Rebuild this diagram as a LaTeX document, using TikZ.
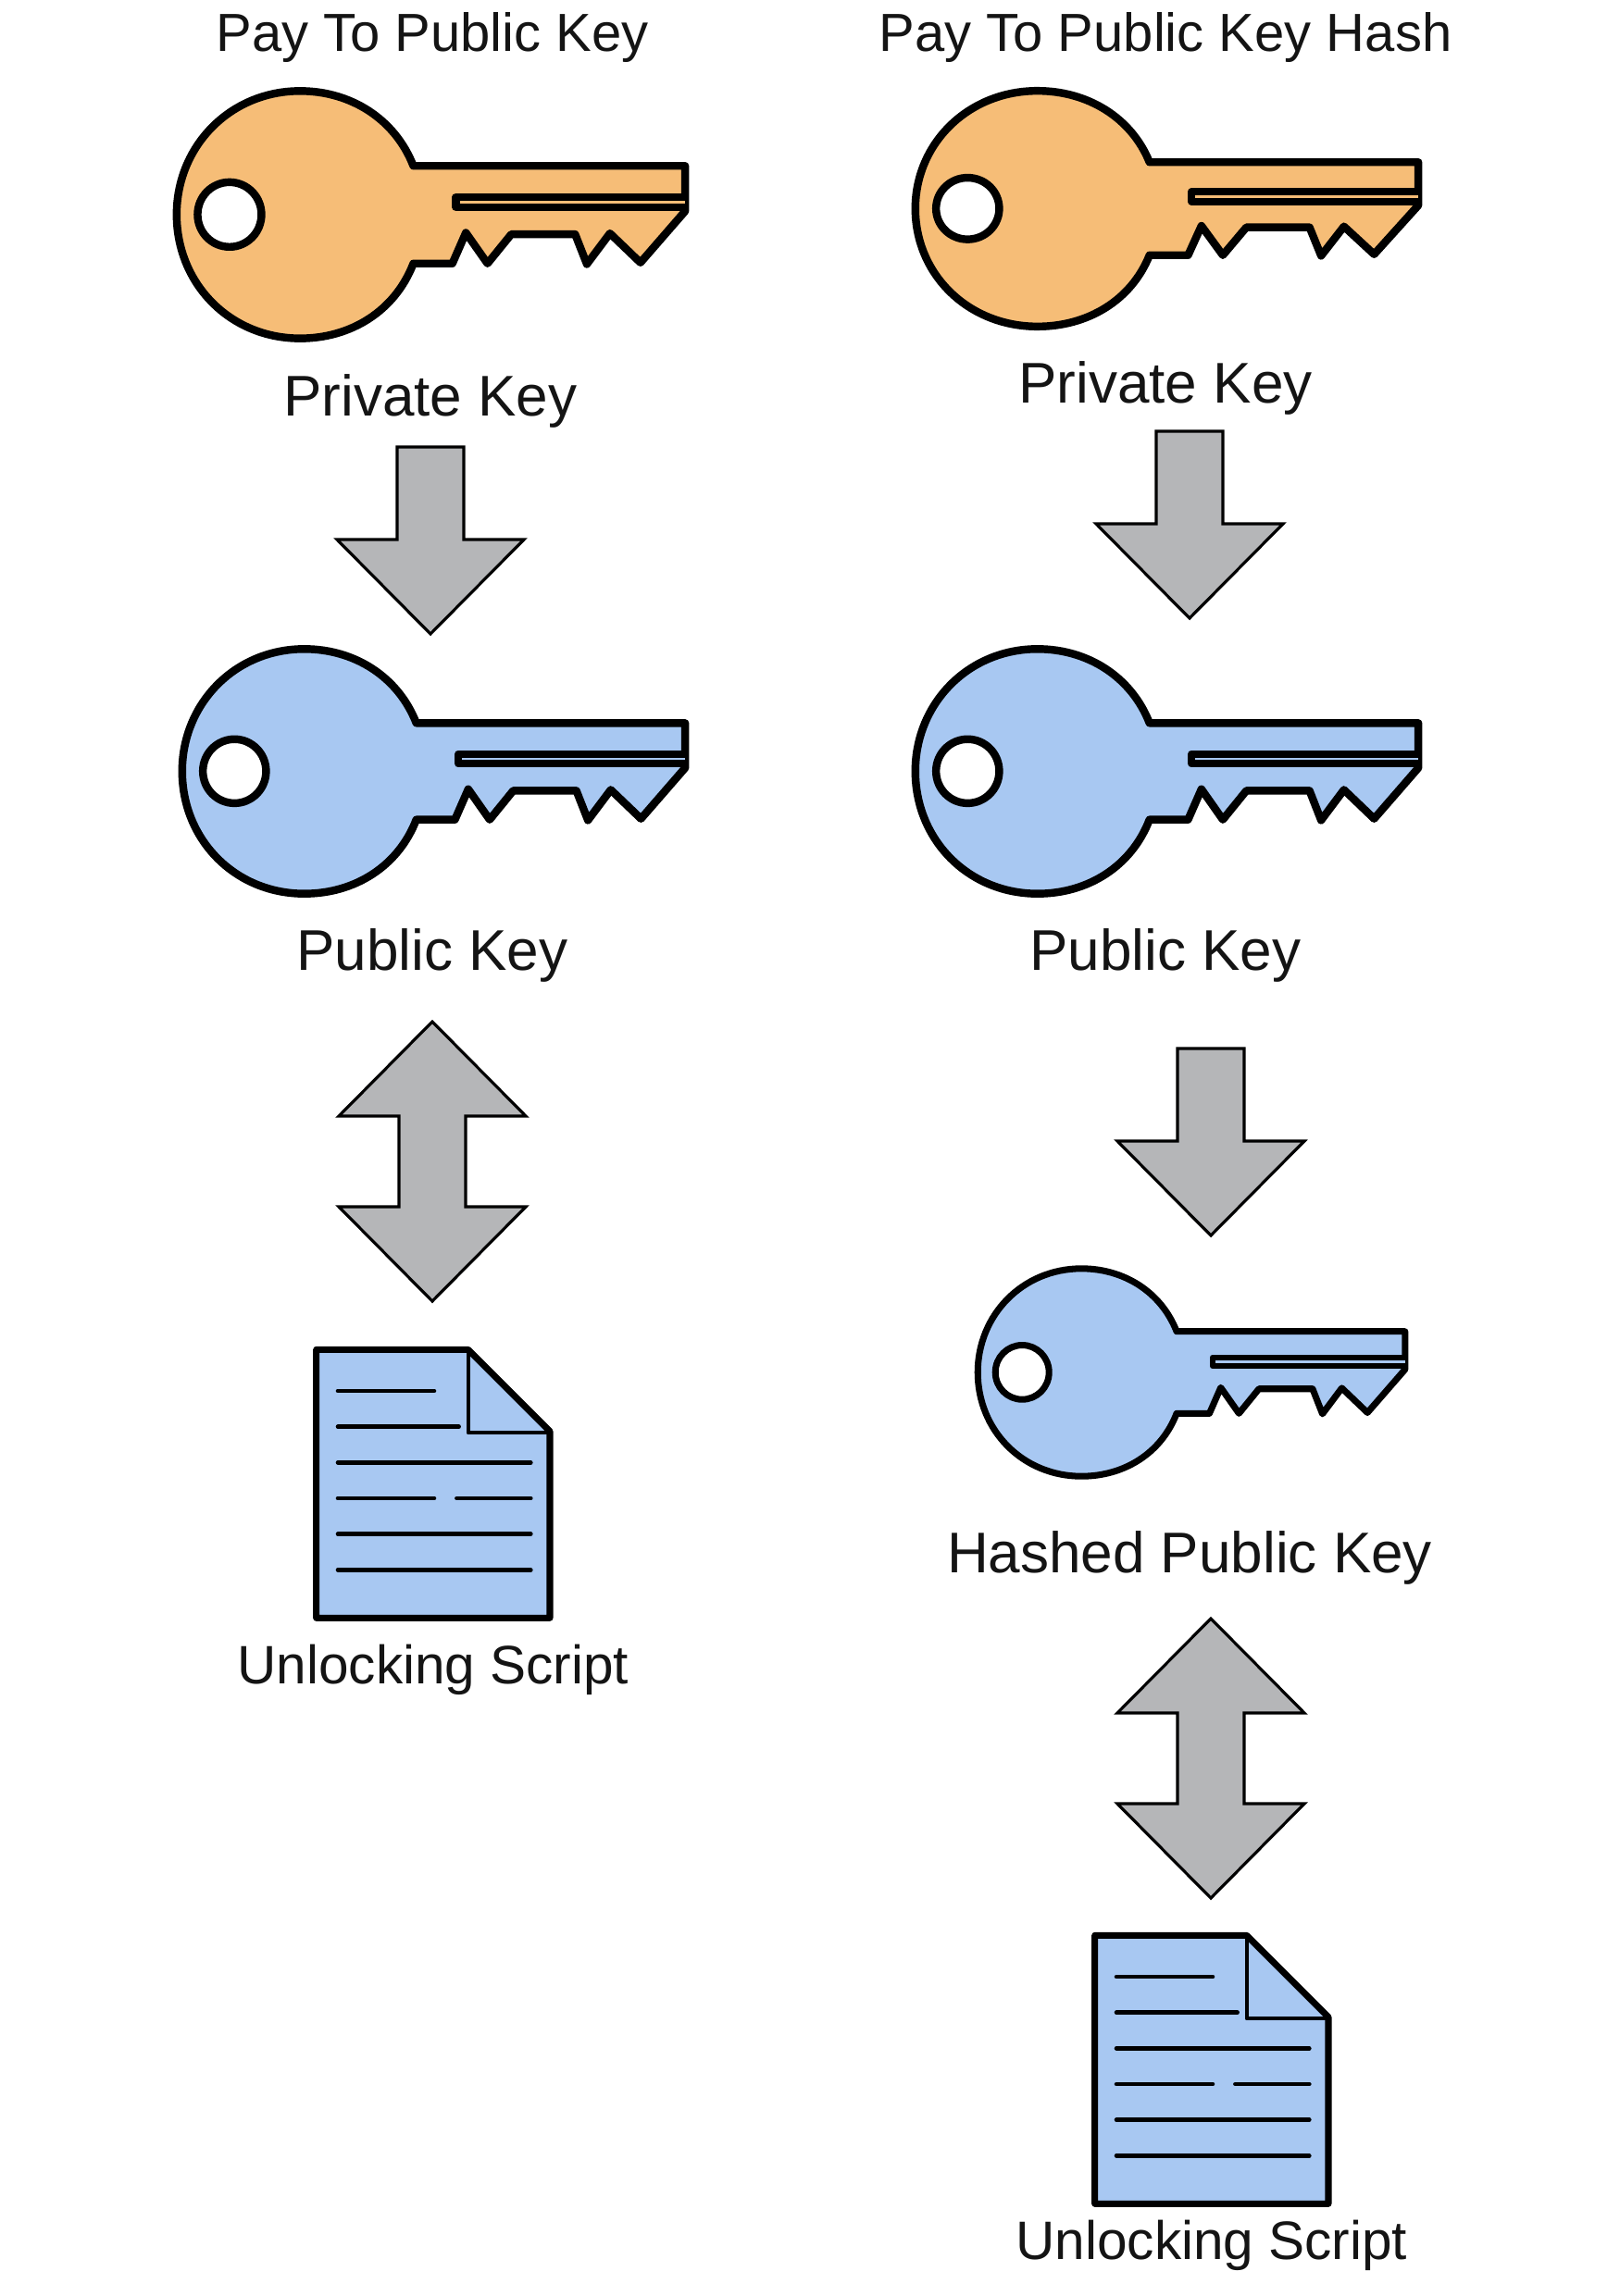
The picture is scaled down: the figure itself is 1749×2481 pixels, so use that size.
\documentclass[tikz,border=0pt]{standalone}
\usepackage{fontspec}
\setmainfont{Liberation Sans}
\definecolor{keyorange}{HTML}{F6BD77}
\definecolor{keyblue}{HTML}{A8C8F2}
\definecolor{arrowgray}{HTML}{B5B6B8}
\tikzset{
  lbl/.style={font=\fontsize{35.3pt}{38pt}\selectfont, inner sep=0pt, text=black!92},
  ttl/.style={font=\fontsize{33pt}{36pt}\selectfont, inner sep=0pt, text=black!92},
  scr/.style={font=\fontsize{33.3pt}{36pt}\selectfont, inner sep=0pt, text=black!92},
  keyline/.style={draw=black, line join=round},
  blockarrow/.style={draw=black, fill=arrowgray, line width=1.8pt, line join=miter},
  docline/.style={draw=black, line width=2.6pt, line cap=round},
}
% #1 L, #2 T, #3 R, #4 B (full pixel bbox), #5 colour, #6 outline width, #7 slot outline width
\newcommand{\keyshape}[7]{%
  \begin{scope}[shift={(#1,#2)}, x={({(#3-#1)/1453*0.02cm},0)}, y={(0,{-(#4-#2)/823*0.02cm})}, shift={(-45,-45)}]
    \path[keyline, fill=#5, line width=#6] (722,298) -- (1488,298) -- (1488,445) -- (1362,612) -- (1276,517) -- (1211,617) -- (1178,520) -- (998,520) -- (931,615) -- (870,515) -- (832,615) -- (722,615)
      .. controls (670,770) and (545,858) .. (403,858)
      .. controls (205,858) and (55,680) .. (55,456)
      .. controls (55,235) and (205,55) .. (403,55)
      .. controls (545,55) and (670,145) .. (722,298) -- cycle;
    \path[keyline, fill=white, line width=#6] (204,456) ellipse [x radius=90, y radius=105];
    \path[keyline, fill=#5, line width=#7] (1488,399) -- (842,399) -- (842,432) -- (1488,432);
  \end{scope}}
\newcommand{\downarrowshape}[2]{% tip x, shaft top y
  \path[blockarrow] (#1-36,#2) -- (#1+36,#2) -- (#1+36,#2+100) -- (#1+101,#2+100) -- (#1,#2+202) -- (#1-101,#2+100) -- (#1-36,#2+100) -- cycle;}
\newcommand{\bothshape}[2]{% centre x, top tip y
  \path[blockarrow] (#1,#2) -- (#1+101,#2+102) -- (#1+36,#2+102) -- (#1+36,#2+200) -- (#1+101,#2+200) -- (#1,#2+302) -- (#1-101,#2+200) -- (#1-36,#2+200) -- (#1-36,#2+102) -- (#1-101,#2+102) -- cycle;}
\newcommand{\docshape}[2]{%
  \begin{scope}[shift={(#1,#2)}, x={(0.02cm/3,0)}, y={(0,-0.02cm/3)}]
    \path[keyline, fill=keyblue, line width=4pt] (65,85) -- (557,85) -- (822,350) -- (822,955) -- (65,955) -- cycle;
    \path[draw=black, line width=2.3pt, line join=round] (557,85) -- (557,355) -- (822,355);
    \foreach \a/\b/\c in {135/447/219,135/527/335,135/760/451,135/447/567,520/760/567,135/760/683,135/760/799}
      \path[docline] (\a,\c) -- (\b,\c);
  \end{scope}}
\begin{document}
\begin{tikzpicture}[x=0.02cm,y=-0.02cm]
\useasboundingbox (0,0) rectangle (1749,2481);
\keyshape{187}{95}{744}{369}{keyorange}{4.8pt}{4.6pt}
\keyshape{985}{95}{1536}{356}{keyorange}{4.8pt}{4.6pt}
\keyshape{193}{698}{744}{969}{keyblue}{4.8pt}{4.5pt}
\keyshape{985}{698}{1536}{969}{keyblue}{4.8pt}{4.5pt}
\keyshape{1053}{1368}{1521}{1598}{keyblue}{4pt}{3.3pt}
\downarrowshape{465}{483}
\downarrowshape{1285}{466}
\downarrowshape{1308}{1133}
\bothshape{467}{1104}
\bothshape{1308}{1749}
\docshape{320}{1430}
\docshape{1161}{2063}
\node[ttl] (t1) at (467,41) {Pay To Public Key};
\node[ttl] (t2) at (1259,41) {Pay To Public Key Hash};
\node[lbl] (p1) at (465,433) {Private Key};
\node[lbl] (p2) at (1259,419) {Private Key};
\node[lbl] (u1) at (467,1032) {Public Key};
\node[lbl] (u2) at (1259,1032) {Public Key};
\node[lbl] (h) at (1285,1683) {Hashed Public Key};
\node[scr] (s1) at (468,1804) {Unlocking Script};
\node[scr] (s2) at (1309,2426) {Unlocking Script};
\end{tikzpicture}
\end{document}
